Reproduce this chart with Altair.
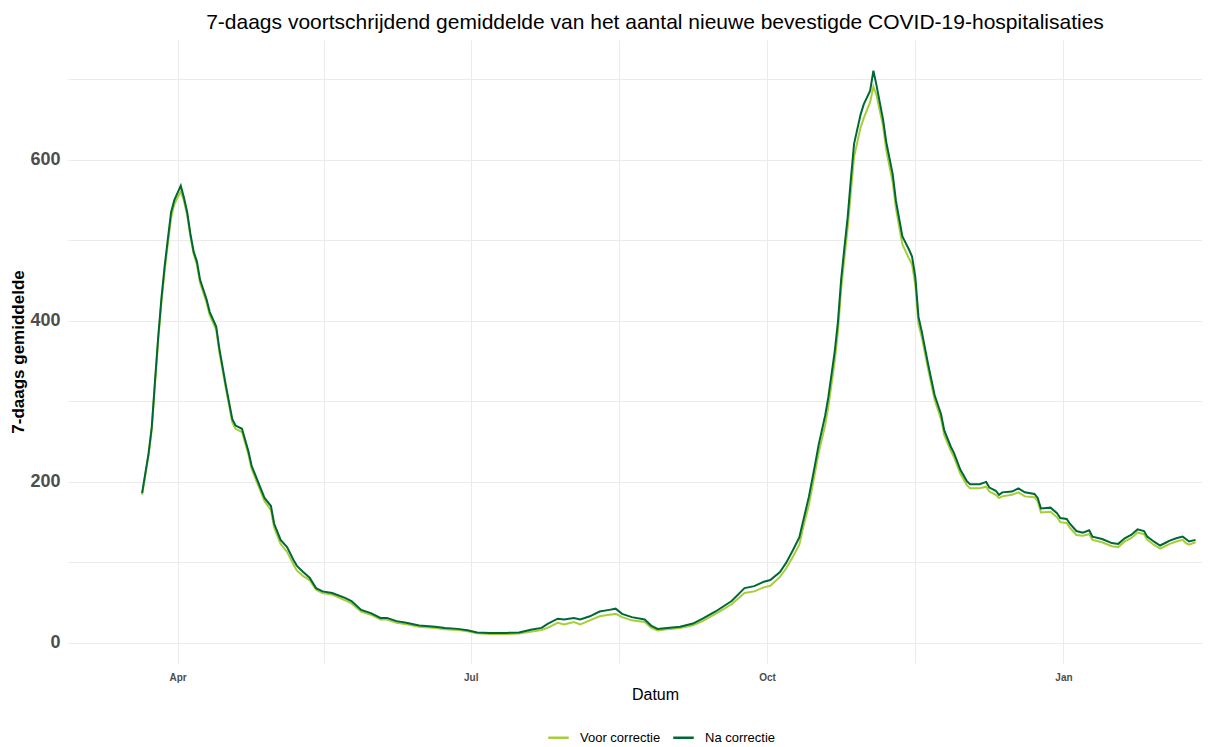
import altair as alt
import pandas as pd

dates = [
    "2020-03-21", "2020-03-23", "2020-03-24", "2020-03-25", "2020-03-26", "2020-03-27",
    "2020-03-28", "2020-03-29", "2020-03-30", "2020-03-31", "2020-04-01", "2020-04-02",
    "2020-04-03", "2020-04-04", "2020-04-05", "2020-04-06", "2020-04-07", "2020-04-08",
    "2020-04-10", "2020-04-11", "2020-04-13", "2020-04-14", "2020-04-16", "2020-04-18",
    "2020-04-19", "2020-04-21", "2020-04-23", "2020-04-24", "2020-04-26", "2020-04-28",
    "2020-04-30", "2020-05-01", "2020-05-03", "2020-05-05", "2020-05-07", "2020-05-08",
    "2020-05-10", "2020-05-12", "2020-05-14", "2020-05-16", "2020-05-19", "2020-05-23",
    "2020-05-25", "2020-05-28", "2020-05-31", "2020-06-03", "2020-06-05", "2020-06-08",
    "2020-06-11", "2020-06-15", "2020-06-20", "2020-06-23", "2020-06-27", "2020-06-30",
    "2020-07-03", "2020-07-07", "2020-07-12", "2020-07-16", "2020-07-20", "2020-07-23",
    "2020-07-25", "2020-07-28", "2020-07-30", "2020-08-02", "2020-08-04", "2020-08-07",
    "2020-08-10", "2020-08-13", "2020-08-15", "2020-08-17", "2020-08-20", "2020-08-24",
    "2020-08-26", "2020-08-28", "2020-08-31", "2020-09-04", "2020-09-08", "2020-09-11",
    "2020-09-15", "2020-09-20", "2020-09-24", "2020-09-27", "2020-09-30", "2020-10-02",
    "2020-10-05", "2020-10-07", "2020-10-09", "2020-10-11", "2020-10-12", "2020-10-14",
    "2020-10-16", "2020-10-17", "2020-10-19", "2020-10-20", "2020-10-22", "2020-10-23",
    "2020-10-24", "2020-10-25", "2020-10-26", "2020-10-27", "2020-10-28", "2020-10-30",
    "2020-10-31", "2020-11-02", "2020-11-03", "2020-11-04", "2020-11-06", "2020-11-07",
    "2020-11-09", "2020-11-10", "2020-11-12", "2020-11-14", "2020-11-15", "2020-11-16",
    "2020-11-17", "2020-11-18", "2020-11-20", "2020-11-21", "2020-11-22", "2020-11-24",
    "2020-11-25", "2020-11-27", "2020-11-28", "2020-11-30", "2020-12-02", "2020-12-03",
    "2020-12-06", "2020-12-08", "2020-12-09", "2020-12-11", "2020-12-12", "2020-12-13",
    "2020-12-16", "2020-12-18", "2020-12-20", "2020-12-23", "2020-12-24", "2020-12-25",
    "2020-12-28", "2020-12-30", "2020-12-31", "2021-01-02", "2021-01-03", "2021-01-05",
    "2021-01-07", "2021-01-09", "2021-01-10", "2021-01-13", "2021-01-16", "2021-01-18",
    "2021-01-20", "2021-01-22", "2021-01-24", "2021-01-26", "2021-01-27", "2021-01-29",
    "2021-01-31", "2021-02-02", "2021-02-03", "2021-02-05", "2021-02-07", "2021-02-08",
    "2021-02-09", "2021-02-11",
]

na_correctie = [
    186, 235, 268, 325, 380, 428,
    468, 502, 535, 550, 559, 568,
    553, 535, 508, 486, 474, 451,
    427, 411, 393, 365, 320, 278,
    270, 266, 238, 220, 200, 180,
    170, 148, 128, 119, 103, 96,
    88, 81, 68, 64, 62, 56,
    52, 41, 37, 31, 31, 27,
    25, 21.5, 20, 18.6, 17.4, 15.7,
    13, 12.4, 12.4, 13, 16.5, 18.6,
    24, 30, 29, 31, 29, 33,
    39, 41, 42.5, 36, 32, 29,
    21.5, 17.4, 18.6, 20, 24, 30,
    39, 52, 68, 70.5, 76, 78,
    88, 100, 115, 131, 148, 182,
    224, 246, 282, 305, 362, 399,
    452, 491, 528, 576, 620, 656,
    669, 686, 711, 692, 650, 622,
    582, 549, 505, 489, 480, 455,
    405, 387, 346, 327, 308, 284,
    264, 244, 236, 215, 201, 197,
    197, 200, 193, 189, 184, 187,
    188, 192, 187, 185, 180, 167,
    168, 161, 155, 154, 148, 139,
    137, 140, 132, 129, 124, 123,
    130, 134, 141, 139, 132, 126,
    121, 125, 127, 130, 132, 129,
    126, 128,
]

voor_correctie = [
    184, 233, 265, 321, 376, 423,
    462, 496, 528, 545, 553, 561,
    549, 531, 505, 483, 470, 447,
    423, 407, 389, 361, 316, 274,
    266, 262, 234, 216, 196, 176,
    165, 143, 123, 113, 97, 90,
    83, 78, 66, 62, 60, 53,
    49, 39, 35, 29, 29, 25,
    23, 20, 18.5, 17, 16, 14.5,
    12, 11, 11, 11.5, 14, 16,
    19, 25, 23, 26, 23, 28,
    33, 35, 36, 32, 28, 26,
    19, 15.5, 17, 18.5, 22, 27,
    36, 48, 62, 64, 69, 71,
    82, 93, 107, 122, 140, 172,
    214, 236, 270, 293, 350, 387,
    440, 478, 515, 560, 604, 640,
    652, 672, 691, 680, 642, 612,
    572, 540, 495, 478, 470, 445,
    396, 380, 340, 321, 302, 278,
    258, 239, 231, 210, 196, 192,
    192, 194, 188, 184, 180, 182,
    184, 187, 182, 181, 176, 162,
    163, 156, 150, 149, 143, 134,
    133, 135, 128, 125, 120, 119,
    126, 130, 137, 135, 128, 122,
    117, 121, 123, 126, 128, 124,
    122, 125,
]

series_names = ["Voor correctie", "Na correctie"]
series_colors = ["#A6CE39", "#006837"]

df = pd.concat([
    pd.DataFrame({"datum": dates, "waarde": voor_correctie, "reeks": series_names[0]}),
    pd.DataFrame({"datum": dates, "waarde": na_correctie, "reeks": series_names[1]}),
])

FONT = "Liberation Sans"

x_values = [
    alt.DateTime(year=2020, month=4, date=1, utc=True),
    alt.DateTime(year=2020, month=5, date=16, hours=12, utc=True),
    alt.DateTime(year=2020, month=7, date=1, utc=True),
    alt.DateTime(year=2020, month=8, date=16, utc=True),
    alt.DateTime(year=2020, month=10, date=1, utc=True),
    alt.DateTime(year=2020, month=11, date=16, utc=True),
    alt.DateTime(year=2021, month=1, date=1, utc=True),
    alt.DateTime(year=2021, month=2, date=15, utc=True),
]

x_enc = alt.X(
    "datum:T",
    title="Datum",
    scale=alt.Scale(
        type="utc",
        domain=[
            alt.DateTime(year=2020, month=2, date=27, utc=True),
            alt.DateTime(year=2021, month=2, date=13, utc=True),
        ],
    ),
    axis=alt.Axis(
        values=x_values,
        labelExpr="utcdate(datum.value) == 1 ? utcFormat(datum.value, '%b') : ''",
        labelFont=FONT, labelFontSize=10, labelFontWeight="bold", labelColor="#4D4D4D",
        labelPadding=9, ticks=False, domain=False,
        grid=True, gridColor="#EBEBEB", gridWidth=1,
        titleFont=FONT, titleFontSize=16, titleFontWeight="normal", titleColor="#000000",
        titleX=587, titleY=31, titleBaseline="middle", titleAnchor="middle",
        labelOverlap=False,
    ),
)

y_enc = alt.Y(
    "waarde:Q",
    title="7-daags gemiddelde",
    scale=alt.Scale(domain=[-25, 749], nice=False, zero=False),
    axis=alt.Axis(
        values=[0, 100, 200, 300, 400, 500, 600, 700],
        labelExpr="datum.value % 200 == 0 ? datum.label : ''",
        labelFont=FONT, labelFontSize=18, labelFontWeight="bold", labelColor="#4D4D4D",
        labelPadding=8, ticks=False, domain=False,
        grid=True, gridColor="#EBEBEB", gridWidth=1,
        titleFont=FONT, titleFontSize=17, titleFontWeight="bold", titleColor="#000000",
        titleAngle=270, titleX=-50, titleY=311.5, titleBaseline="middle", titleAlign="center",
        labelOverlap=False,
    ),
)

color_enc = alt.Color(
    "reeks:N",
    scale=alt.Scale(domain=series_names, range=series_colors),
    legend=alt.Legend(
        title=None, orient="none", legendX=479, legendY=686, direction="horizontal",
        symbolType="stroke", symbolSize=420, symbolStrokeWidth=2.5,
        labelFont=FONT, labelFontSize=13, labelColor="#000000", labelOffset=10,
        columnPadding=7, padding=0,
    ),
)

base = alt.Chart(df).encode(x=x_enc, y=y_enc, color=color_enc)

line_voor = base.transform_filter(alt.datum.reeks == series_names[0]).mark_line(strokeWidth=2)
line_na = base.transform_filter(alt.datum.reeks == series_names[1]).mark_line(strokeWidth=2)

chart = alt.layer(line_voor, line_na).properties(
    width=1134,
    height=623,
    title=alt.TitleParams(
        "7-daags voortschrijdend gemiddelde van het aantal nieuwe bevestigde COVID-19-hospitalisaties",
        font=FONT, fontSize=21, fontWeight="normal", color="#000000",
        anchor="middle", dx=20, offset=7,
    ),
    autosize=alt.AutoSizeParams(type="none"),
    padding={"left": 60, "top": 32, "right": 0, "bottom": 84},
    background="#FFFFFF",
).configure_view(stroke=None)

chart.save("out.html", embed_options={"renderer": "svg", "actions": False})
